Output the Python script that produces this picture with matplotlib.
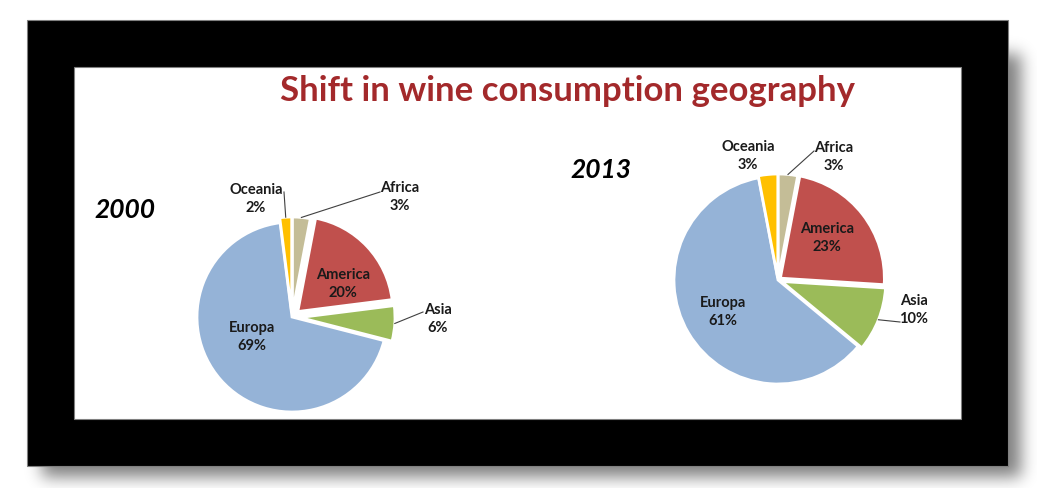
import numpy as np
import matplotlib.pyplot as plt
from matplotlib.patches import Rectangle

# ---- data ----
regions_2000 = ['Africa', 'America', 'Asia', 'Europa', 'Oceania']
share_2000 = [3, 20, 6, 69, 2]
regions_2013 = ['Africa', 'America', 'Asia', 'Europa', 'Oceania']
share_2013 = [3, 23, 10, 61, 3]
years = ['2000', '2013']
title = 'Shift in wine consumption geography'

COLORS = {'Africa': '#C4BD97', 'America': '#C0504D', 'Asia': '#9BBB59',
          'Europa': '#95B3D7', 'Oceania': '#FFC000'}

W, H = 1037, 489
FONT = ['Lato', 'DejaVu Sans']

# layout in pixels (y from top): centre, radius, explode, year position,
# label positions and leader-line start (None = label inside, no leader)
LAYOUT = [
    dict(center=(292, 318), radius=95,
         explode={'Africa': 5, 'America': 8, 'Asia': 8, 'Europa': 0, 'Oceania': 5},
         year=(125, 210),
         labels={'Africa': ((400, 197), (380, 193)),
                 'America': ((343, 284), None),
                 'Asia': ((438, 319), (423, 313)),
                 'Europa': ((252, 337), None),
                 'Oceania': ((256, 199), (284, 193))}),
    dict(center=(778, 281), radius=104,
         explode={'Africa': 2, 'America': 3, 'Asia': 4, 'Europa': 0, 'Oceania': 2},
         year=(601, 170),
         labels={'Africa': ((834, 157), (814, 152)),
                 'America': ((827, 238), None),
                 'Asia': ((914, 310), (900, 323)),
                 'Europa': ((723, 312), None),
                 'Oceania': ((748, 156), None)}),
]


def blur(a, sigma):
    k = np.arange(-3 * sigma, 3 * sigma + 1)
    g = np.exp(-k ** 2 / (2.0 * sigma ** 2))
    g /= g.sum()
    a = np.apply_along_axis(lambda r: np.convolve(r, g, mode='same'), 1, a)
    a = np.apply_along_axis(lambda c: np.convolve(c, g, mode='same'), 0, a)
    return a


fig = plt.figure(figsize=(W / 100, H / 100), dpi=100)
ax = fig.add_axes([0, 0, 1, 1])

# drop shadow behind the black frame
sh = np.zeros((H, W))
sh[55:478, 42:1021] = 1.0
sh = blur(sh, 8)
rgba = np.zeros((H, W, 4))
rgba[..., 3] = 0.5 * sh
ax.imshow(rgba, extent=(0, W, 0, H), origin='upper', zorder=-4, interpolation='bilinear')

ax.add_patch(Rectangle((27, H - 467), 981, 446, facecolor='black',
                       edgecolor='#808080', linewidth=0.8, zorder=-3))
ax.add_patch(Rectangle((74, H - 420), 887, 352, facecolor='white',
                       edgecolor='#808080', linewidth=0.8, zorder=-2))

ax.text(567, H - 91, title, ha='center', va='center', fontsize=25,
        fontweight='bold', color='#A3292B', family=FONT)

for names, values, year, lay in zip([regions_2000, regions_2013],
                                    [share_2000, share_2013], years, LAYOUT):
    cx, cy = lay['center']
    wedges, _ = ax.pie(values, colors=[COLORS[n] for n in names],
                       startangle=90, counterclock=False,
                       center=(cx, H - cy), radius=lay['radius'],
                       explode=[lay['explode'][n] for n in names],
                       wedgeprops=dict(edgecolor='white', linewidth=2))
    yx, yy = lay['year']
    ax.text(yx, H - yy, year, ha='center', va='center', fontsize=19,
            fontweight='bold', fontstyle='italic', color='black', family=FONT)
    for w, n, v in zip(wedges, names, values):
        (lx, ly), lead = lay['labels'][n]
        ax.text(lx, H - ly, f'{n}\n{v}%', ha='center', va='center',
                fontsize=10.5, fontweight='bold', color='#1a1a1a',
                linespacing=1.3, family=FONT)
        if lead is not None:
            th = np.deg2rad((w.theta1 + w.theta2) / 2)
            ex = w.center[0] + w.r * np.cos(th)
            ey = w.center[1] + w.r * np.sin(th)
            sx, sy = lead
            ax.plot([sx, ex], [H - sy, ey], color='#404040', linewidth=0.8)

ax.set_xlim(0, W)
ax.set_ylim(0, H)
ax.set_aspect('auto')
ax.axis('off')

fig.savefig('out.png', dpi=100)
